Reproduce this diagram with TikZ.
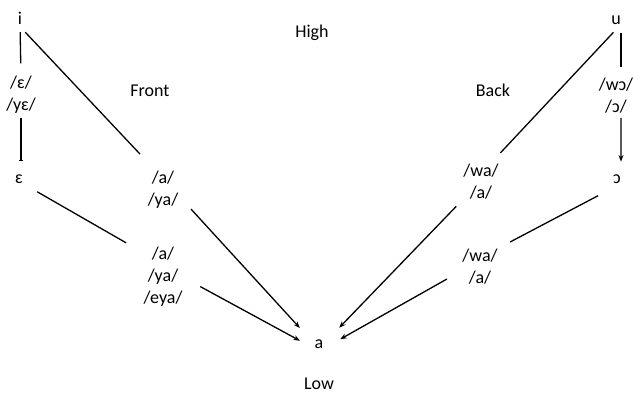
\documentclass[tikz,border=0pt]{standalone}
\usepackage{fontspec}
\setmainfont{Carlito}
\usetikzlibrary{arrows.meta}

\begin{document}
\begin{tikzpicture}[x=1pt, y=-1pt,
  every node/.style={inner sep=0pt, font=\fontsize{18}{22}\selectfont},
  multi/.style={align=center},
  lnk/.style={line width=1.3pt},
  arr/.style={lnk, -{Stealth[length=6.5pt,width=5pt]}}]

\useasboundingbox (0,0) rectangle (633,394);

% Corner vowels
\node[anchor=base] (i) at (20,24) {i};
\node[anchor=base] (u) at (616,24) {u};
\node[anchor=base] (eps) at (19,183.3) {ɛ};
\node[anchor=base] (oo) at (617,183.3) {ɔ};
\node[anchor=base] (a) at (319,348.3) {a};

% Axis words
\node[anchor=base] (high) at (312,37.7) {High};
\node[anchor=base] (front) at (150,96.7) {Front};
\node[anchor=base] (back) at (493,96.7) {Back};
\node[anchor=base] (low) at (319,389.5) {Low};

% Reflexes along the paths
\node[multi] (fe) at (21,95) {/ɛ/\\/yɛ/};
\node[multi] (wo) at (616,95.8) {/wɔ/\\/ɔ/};
\node[multi] (fa) at (163,189.7) {/a/\\/ya/};
\node[multi] (ba) at (481,181.3) {/wa/\\/a/};
\node[multi] (fl) at (163,277) {/a/\\/ya/\\/eya/};
\node[multi] (bl) at (480,266.3) {/wa/\\/a/};

% Front side
\draw[lnk, shorten <=8pt, shorten >=12.8pt] (i.south) -- (fe.north);
\draw[lnk, -{Bar[width=4pt]}, shorten <=3.7pt, shorten >=13.5pt] (fe.south) -- (fe.south |- eps.north);
\draw[lnk, shorten <=11pt, shorten >=23pt] (i.south west) -- (fa.111);
\draw[arr, shorten <=18.7pt, shorten >=21.7pt] (fa.-20) -- (a.west);
\draw[lnk, shorten <=16.4pt, shorten >=19.8pt] (eps.south east) -- (fl.129);
\draw[arr, shorten <=20pt, shorten >=16.5pt] (fl.east) -- (a.south west);

% Back side
\draw[lnk, shorten <=9pt, shorten >=10.8pt] (u.south east) -- (u.south east |- wo.north);
\draw[arr, shorten <=4.2pt, shorten >=12.8pt] (u.south east |- wo.south) -- (oo.north east);
\draw[lnk, shorten <=11pt, shorten >=14.5pt] (u.south east) -- (ba.62);
\draw[arr, shorten <=10pt, shorten >=22.6pt] (ba.south west) -- (a.east);
\draw[lnk, shorten <=25.8pt, shorten >=13.9pt] (oo.south east) -- (bl.north east);
\draw[arr, shorten <=17.5pt, shorten >=19.2pt] (bl.193) -- (a.south east);

\end{tikzpicture}
\end{document}
